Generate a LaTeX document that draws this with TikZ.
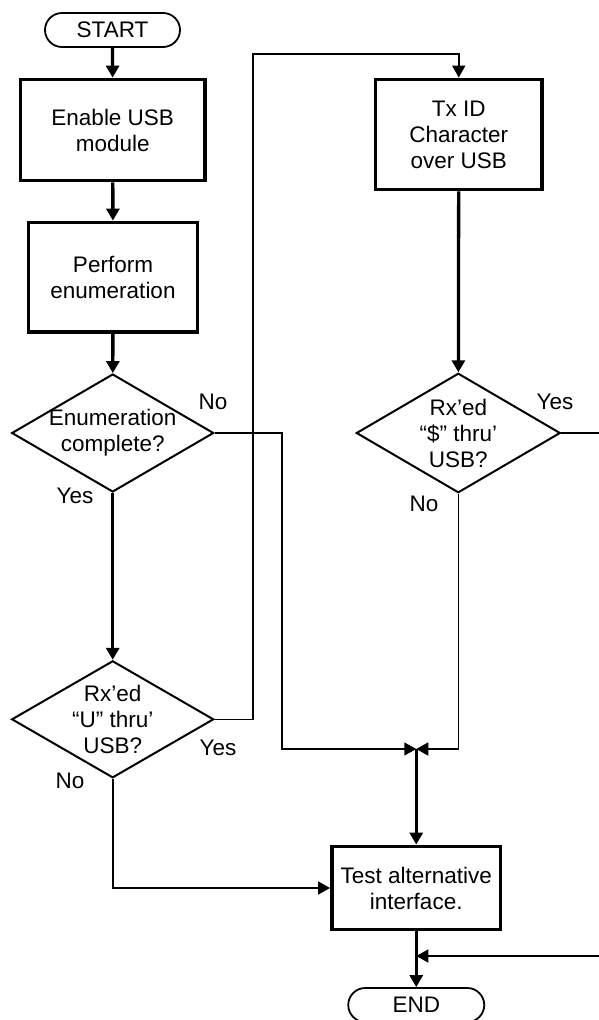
\documentclass[tikz,border=0pt]{standalone}
\usepackage{fontspec}
\setmainfont{Liberation Sans}
\usetikzlibrary{shapes.geometric,arrows.meta}
\tikzset{
  txt/.style={font=\fontsize{22.5}{26}\selectfont, align=center},
  term/.style={txt, draw, line width=1.8pt, rounded corners=17pt, minimum width=135pt, minimum height=34pt, inner sep=0pt},
  procbox/.style={txt, draw, line width=3.8pt, inner sep=0pt},
  decision/.style={draw, diamond, line width=2pt, inner sep=0pt, minimum width=202pt, minimum height=118pt},
  lbl/.style={font=\fontsize{22.5}{26}\selectfont, inner sep=0pt},
  tip/.style={-{Triangle[width=13pt,length=12pt]}},
  flow/.style={tip, line width=3.3pt},
  route/.style={line width=1.6pt},
}
\begin{document}
\begin{tikzpicture}[x=1pt,y=-1pt]
\useasboundingbox (0,0) rectangle (599,1020);
% nodes
\node[term] (start) at (112.5,30) {START};
\node[procbox, minimum width=184.5pt, minimum height=101pt] (enable) at (112.75,130) {Enable USB\\module};
\node[procbox, minimum width=169pt, minimum height=109.5pt] (perform) at (113,277.25) {Perform\\enumeration};
\node[decision, label={[txt]center:Enumeration\\complete?}] (enum) at (112.7,433) {};
\node[decision, minimum height=117pt, label={[txt]center:Rx’ed\\“U” thru’\\USB?}] (u) at (112.7,719.3) {};
\node[procbox, minimum width=166.5pt, minimum height=110pt] (tx) at (458.75,134.5) {Tx ID\\Character\\over USB};
\node[decision, minimum width=204pt, minimum height=119.5pt, label={[txt]center:Rx’ed\\“\$” thru’\\USB?}] (dol) at (458.3,433) {};
\node[procbox, minimum width=168.5pt, minimum height=83pt] (test) at (416.25,888) {Test alternative\\interface.};
\node[term, minimum width=136pt] (end) at (416.25,1005) {END};
% labels
\node[lbl] (l1) at (213,402) {No};
\node[lbl] (l2) at (75,496) {Yes};
\node[lbl] (l3) at (555,402) {Yes};
\node[lbl] (l4) at (424,504) {No};
\node[lbl] (l5) at (218,748) {Yes};
\node[lbl] (l6) at (70,781) {No};
% coordinates
\coordinate (m) at (416.25,749);
\coordinate (ra) at (282,433);
\coordinate (ub) at (253,719.3);
\coordinate (ut) at (253,54);
\coordinate (redge) at (599,433);
\coordinate (redge2) at (599,956);
% connectors
\draw[flow] (start) -- (enable);
\draw[flow] (enable) -- (perform);
\draw[flow] (perform) -- (enum);
\draw[flow] (enum) -- (u);
\draw[flow] (tx) -- (dol);
\draw[flow] (m) -- (test);
\draw[flow] (test) -- (end);
\draw[route, tip] (enum.east) -- (ra) |- (m);
\draw[route, tip] (u.east) -- (ub) -- (ut) -| (tx.north);
\draw[route, tip] (dol.south) |- (m);
\draw[route] (dol.east) -- (redge);
\draw[route, tip] (u.south) |- (test.west);
\draw[route, tip] (redge2) -- (redge2 -| test.south);
\end{tikzpicture}
\end{document}
